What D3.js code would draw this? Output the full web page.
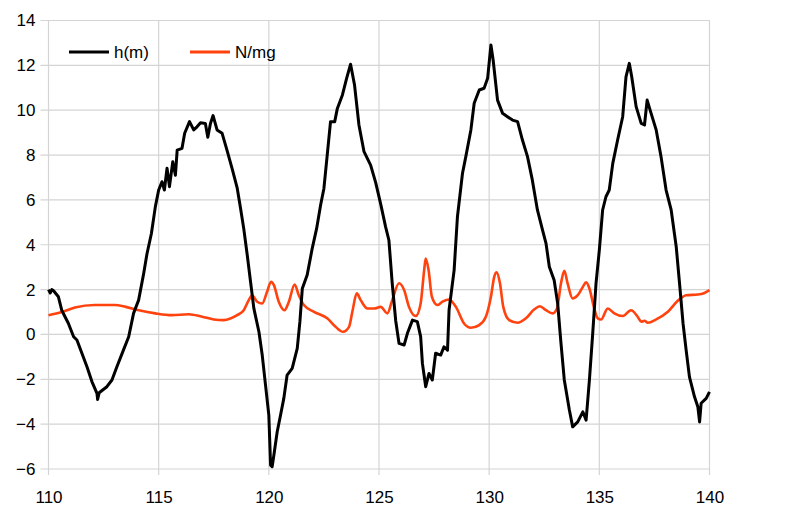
<!DOCTYPE html>
<html><head><meta charset="utf-8">
<script src="https://cdn.jsdelivr.net/npm/d3@7"></script>
<style>body{margin:0;background:#fff}svg{display:block}</style>
</head><body><svg id="c" width="800" height="512"></svg>
<script>
const xTicks = [110,115,120,125,130,135,140];
const yTicks = [-6,-4,-2,0,2,4,6,8,10,12,14];
const seriesNames = ["h(m)","N/mg"];
const hT = [110.0,110.08,110.15,110.23,110.45,110.6,110.9,111.14,111.29,111.52,111.75,111.97,112.2,112.23,112.3,112.43,112.65,112.88,113.1,113.4,113.64,113.86,114.09,114.32,114.47,114.67,114.85,115.0,115.15,115.26,115.38,115.49,115.64,115.76,115.84,116.06,116.18,116.4,116.59,116.74,116.9,117.12,117.23,117.35,117.47,117.65,117.88,118.1,118.34,118.56,118.71,118.86,119.02,119.17,119.32,119.55,119.7,119.85,120.0,120.08,120.15,120.23,120.38,120.53,120.68,120.83,121.06,121.29,121.41,121.52,121.74,121.97,122.17,122.35,122.5,122.65,122.8,122.99,123.11,123.34,123.53,123.71,123.89,124.09,124.32,124.62,124.85,125.08,125.3,125.45,125.6,125.76,125.91,126.14,126.29,126.52,126.74,126.89,126.97,127.12,127.27,127.42,127.57,127.8,127.95,128.11,128.18,128.41,128.56,128.79,128.94,129.17,129.32,129.55,129.77,129.93,130.08,130.18,130.38,130.61,130.83,131.06,131.29,131.51,131.74,131.96,132.19,132.42,132.58,132.73,132.95,133.11,133.26,133.41,133.64,133.79,134.02,134.25,134.4,134.55,134.7,134.85,135.0,135.15,135.3,135.45,135.61,135.83,136.06,136.21,136.36,136.47,136.67,136.9,137.05,137.17,137.35,137.58,137.8,138.03,138.26,138.49,138.64,138.8,138.94,139.09,139.32,139.47,139.55,139.62,139.85,140.0];
const hVal = [2.0,1.85,2.0,1.95,1.68,1.08,0.5,-0.1,-0.25,-0.85,-1.45,-2.1,-2.63,-2.9,-2.6,-2.5,-2.33,-2.03,-1.45,-0.7,-0.1,0.94,1.53,2.72,3.6,4.5,5.7,6.44,6.81,6.44,7.41,6.59,7.7,7.1,8.22,8.3,8.97,9.49,9.12,9.26,9.44,9.41,8.79,9.41,9.76,9.12,8.97,8.22,7.37,6.55,5.66,4.73,3.54,2.35,1.16,0.12,-0.92,-2.26,-3.6,-5.83,-5.9,-5.38,-4.34,-3.6,-2.85,-1.81,-1.51,-0.62,0.57,2.05,2.65,3.84,4.73,5.77,6.51,8.0,9.49,9.49,10.08,10.68,11.42,12.05,11.12,9.34,8.15,7.55,6.77,5.8,4.8,4.2,2.28,0.6,-0.4,-0.47,0.05,0.64,0.57,-0.1,-1.29,-2.33,-1.74,-2.03,-0.84,-0.92,-0.55,-0.7,1.09,2.87,5.25,7.19,7.93,9.12,10.31,10.9,10.98,11.42,12.91,12.24,10.45,9.86,9.71,9.56,9.49,8.67,7.93,6.88,5.55,4.66,4.06,3.02,2.42,1.38,-0.4,-2.03,-3.37,-4.12,-3.9,-3.45,-3.82,-2.03,0.05,2.28,3.76,5.55,6.14,6.44,7.63,8.67,9.71,11.49,12.09,11.49,10.16,9.41,9.34,10.45,9.86,9.12,7.93,6.44,5.55,3.91,2.28,0.49,-0.7,-1.89,-2.78,-3.22,-3.9,-3.07,-2.85,-2.56];
const nT = [110.0,110.6,111.2,112.1,113.0,113.5,114.1,114.85,115.6,116.36,116.97,117.5,117.95,118.56,118.86,119.09,119.24,119.47,119.7,119.92,120.1,120.23,120.45,120.71,120.91,121.17,121.36,121.59,122.05,122.65,123.03,123.36,123.64,123.79,123.99,124.17,124.47,124.77,125.08,125.38,125.6,125.91,126.14,126.36,126.67,126.89,127.05,127.12,127.25,127.4,127.65,127.88,128.18,128.49,128.86,129.17,129.55,129.85,130.08,130.23,130.34,130.49,130.64,130.91,131.29,131.67,132.05,132.3,132.58,132.88,133.08,133.26,133.41,133.56,133.79,134.02,134.25,134.4,134.55,134.75,134.93,135.08,135.38,135.68,136.06,136.44,136.74,136.9,137.05,137.2,137.58,138.11,138.56,138.94,139.47,139.77,140.0];
const nVal = [0.86,1.0,1.2,1.31,1.31,1.23,1.08,0.94,0.86,0.9,0.79,0.67,0.64,0.86,1.08,1.53,1.75,1.46,1.38,1.9,2.35,2.2,1.46,1.08,1.46,2.23,1.75,1.31,1.01,0.72,0.34,0.12,0.34,1.01,1.83,1.53,1.16,1.16,1.23,0.94,1.53,2.28,1.98,1.23,0.82,1.38,2.87,3.39,2.87,1.68,1.31,1.46,1.56,1.23,0.49,0.3,0.42,0.79,1.68,2.57,2.77,2.28,1.23,0.64,0.52,0.72,1.12,1.26,1.08,0.94,1.16,2.28,2.84,2.28,1.6,1.75,2.12,2.32,2.05,1.23,0.72,0.67,1.16,0.94,0.82,1.08,0.79,0.57,0.61,0.52,0.67,1.01,1.5,1.75,1.78,1.85,1.98];

const svg = d3.select("#c");
const L=48.5, R=709.5, T=20.5, B=469;
const x = d3.scaleLinear().domain([110,140]).range([L,R]);
const y = d3.scaleLinear().domain([-6,14]).range([B,T]);
const font = "'Liberation Sans', Arial, sans-serif";
const grid = "#d4d4d4";

const g = svg.append("g");
g.selectAll(".hg").data(yTicks).enter().append("line")
  .attr("x1",L-8).attr("x2",R).attr("y1",d=>y(d)).attr("y2",d=>y(d))
  .attr("stroke",grid).attr("stroke-width",1.2);
g.selectAll(".vg").data(xTicks).enter().append("line")
  .attr("x1",d=>x(d)).attr("x2",d=>x(d)).attr("y1",T).attr("y2",B+6)
  .attr("stroke",grid).attr("stroke-width",1.2);

const ax = svg.append("g").attr("transform",`translate(0,${B})`)
  .call(d3.axisBottom(x).tickValues(xTicks).tickSize(0).tickPadding(22));
const ay = svg.append("g").attr("transform",`translate(${L},0)`)
  .call(d3.axisLeft(y).tickValues(yTicks).tickSize(0).tickPadding(13));
[ax,ay].forEach(a=>{
  a.select(".domain").remove();
  a.selectAll("text").attr("font-family",font).attr("font-size",17).attr("fill","#000");
});

const hData = hT.map((t,i)=>[t,hVal[i]]);
const nData = nT.map((t,i)=>[t,nVal[i]]);
const line = d3.line().x(d=>x(d[0])).y(d=>y(d[1]));
const smooth = d3.line().x(d=>x(d[0])).y(d=>y(d[1])).curve(d3.curveMonotoneX);

svg.append("path").datum(nData).attr("d",smooth).attr("fill","none")
  .attr("stroke","#ff420e").attr("stroke-width",2.6).attr("stroke-linejoin","round");
svg.append("path").datum(hData).attr("d",line).attr("fill","none")
  .attr("stroke","#000").attr("stroke-width",3).attr("stroke-linejoin","round");

const leg = svg.append("g");
const legX = [69,190];
const legColors = ["#000","#ff420e"];
seriesNames.forEach((s,i)=>{
  leg.append("line").attr("x1",legX[i]).attr("x2",legX[i]+40).attr("y1",52).attr("y2",52)
    .attr("stroke",legColors[i]).attr("stroke-width",3);
  leg.append("text").attr("x",legX[i]+45).attr("y",52).attr("dy","0.35em")
    .attr("font-family",font).attr("font-size",17).text(s);
});
</script></body></html>
